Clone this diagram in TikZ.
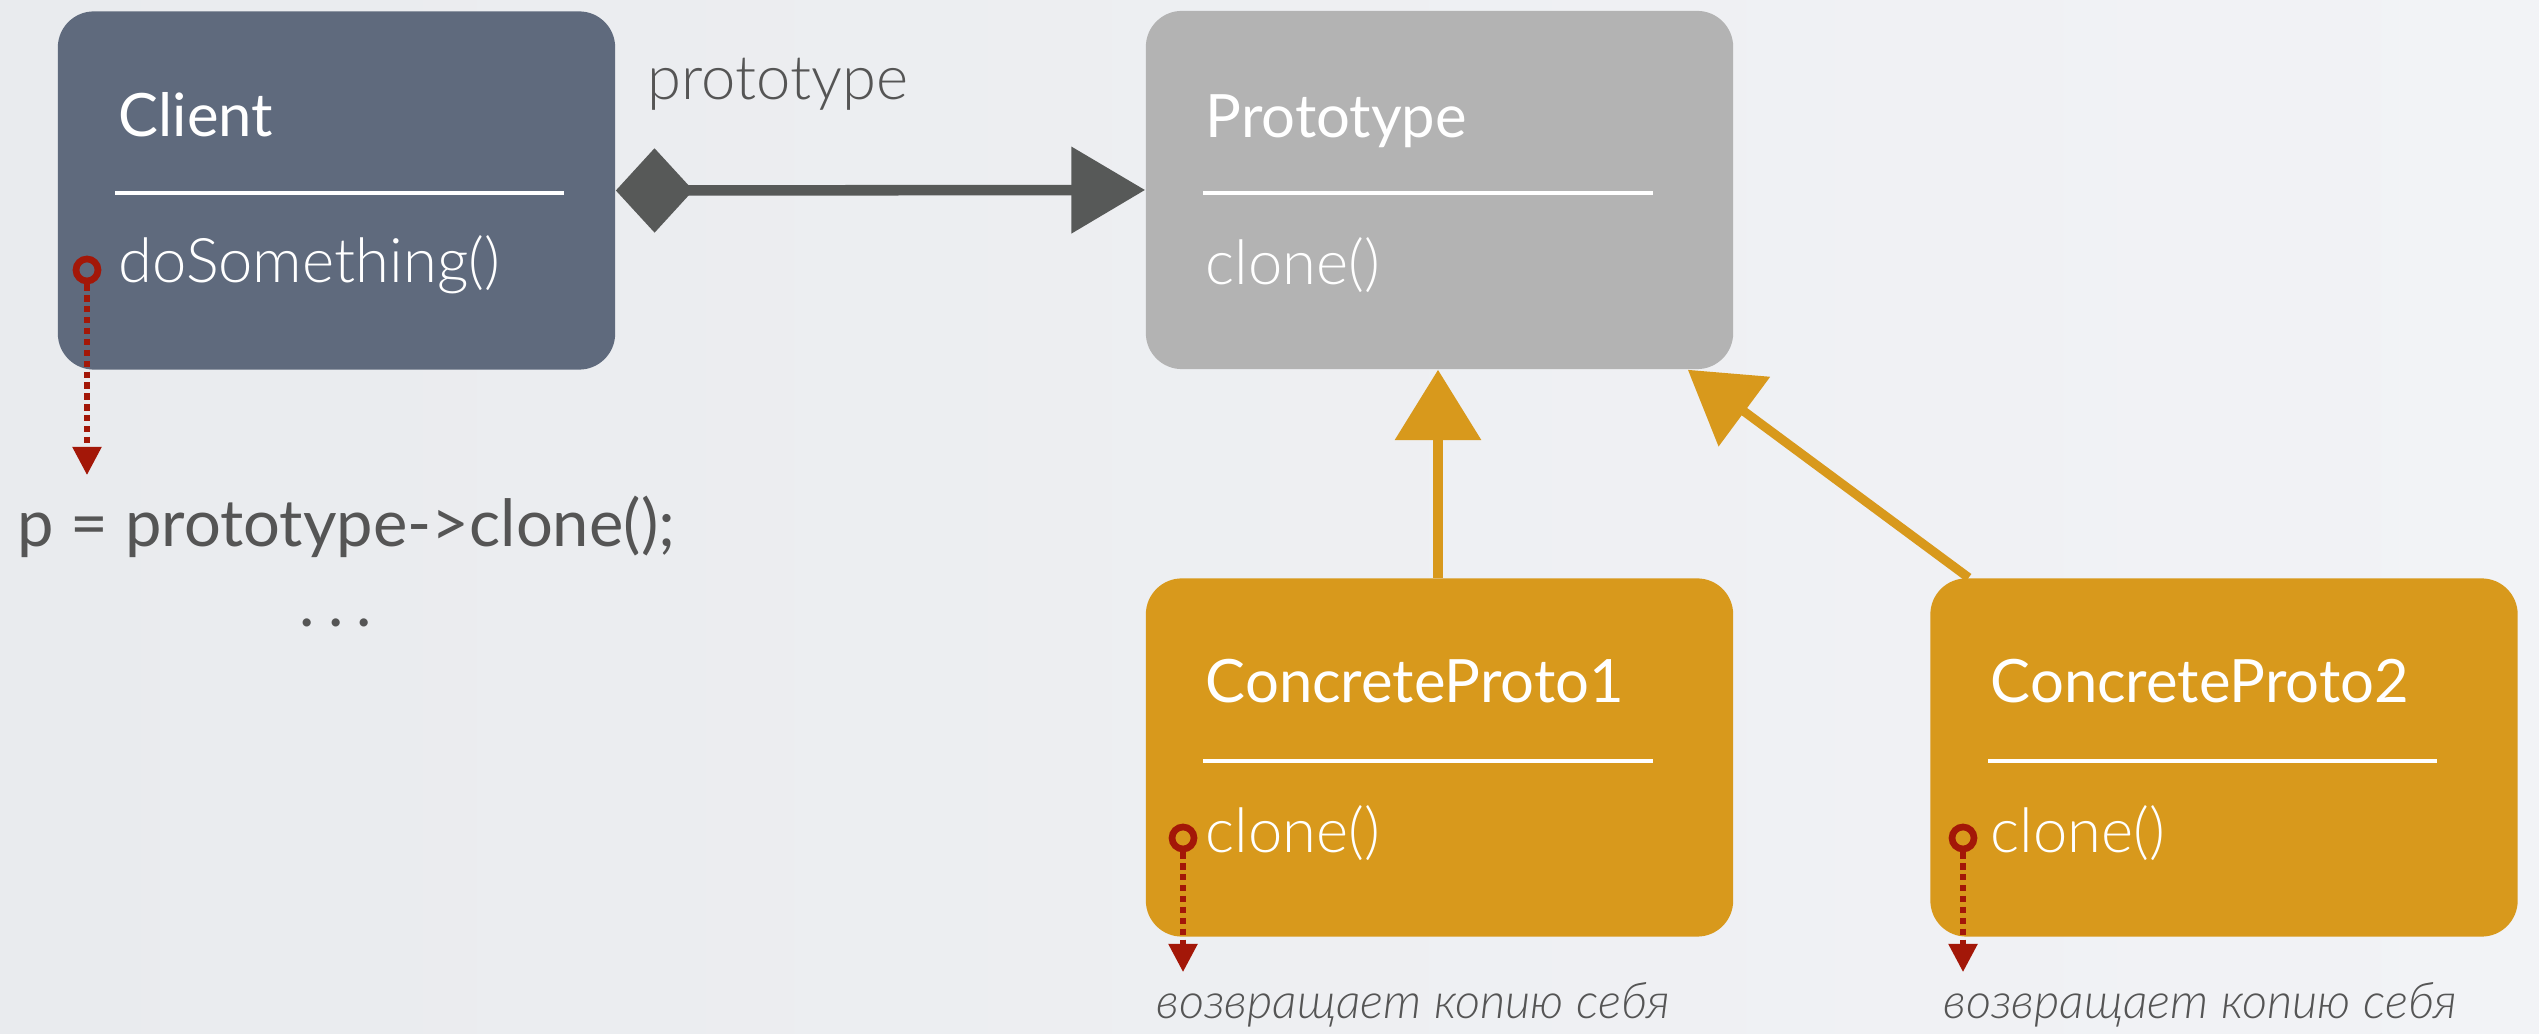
\documentclass[tikz,border=0pt]{standalone}
\usepackage{fontspec}
\setmainfont{Lato}
\newfontfamily\lightfont{Lato Light}
\usetikzlibrary{arrows.meta}

\definecolor{bgleft}{RGB}{233,235,238}
\definecolor{bgright}{RGB}{242,243,246}
\definecolor{clientcol}{RGB}{95,106,125}
\definecolor{protocol}{RGB}{179,179,179}
\definecolor{concol}{RGB}{216,153,28}
\definecolor{assoccol}{RGB}{87,89,88}
\definecolor{callcol}{RGB}{163,23,8}
\definecolor{txtcol}{RGB}{85,85,85}

\tikzset{
  classbox/.style={rounded corners=0.36cm, inner sep=0pt, minimum width=5.87cm, minimum height=3.58cm},
  classname/.style={anchor=base west, text=white, inner sep=0pt, font=\fontsize{17}{20}\selectfont},
  opname/.style={anchor=base west, text=white, inner sep=0pt, font=\lightfont\fontsize{17.5}{20}\selectfont},
  sepline/.style={white, line width=1.1pt},
  hook/.style={circle, draw=callcol, line width=1.9pt, minimum size=0.22cm, inner sep=0pt},
  callarr/.style={callcol, line width=1.5pt, dash pattern=on 1.8pt off 1.3pt, -{Triangle[length=8pt,width=8pt]}},
  inherit/.style={concol, line width=2.6pt, -{Triangle[length=20pt,width=24pt]}},
  assoc/.style={assoccol, line width=3pt, {Diamond[length=22pt,width=24pt]}-{Triangle[length=21pt,width=24pt]}},
  retnote/.style={anchor=base west, text=txtcol, inner sep=0pt, font=\lightfont\fontsize{13.9}{17}\selectfont\itshape}
}

\begin{document}
\begin{tikzpicture}[x=0.01cm,y=-0.01cm]
   % background
   \fill[left color=bgleft, right color=bgright] (0,0) rectangle (2539,1034);

   % classes
   \node[classbox, fill=clientcol, minimum width=5.57cm] (client) at (336.5,190.5) {};
   \node[classbox, fill=protocol] (proto) at (1439.5,190) {};
   \node[classbox, fill=concol] (conc1) at (1439.5,757.5) {};
   \node[classbox, fill=concol] (conc2) at (2224,757.5) {};

   \node[classname] (clname) at (118,137) {Client};
   \draw[sepline] (115,193) -- (564,193);
   \node[opname] (clop) at (118,283) {doSomething()};

   \node[classname] (prname) at (1205,138) {Prototype};
   \draw[sepline] (1203,193) -- (1653,193);
   \node[opname] (prop) at (1205,285) {clone()};

   \node[classname] (c1name) at (1205,703) {ConcreteProto1};
   \draw[sepline] (1203,761) -- (1653,761);
   \node[opname] (c1op) at (1205,853) {clone()};

   \node[classname] (c2name) at (1990,703) {ConcreteProto2};
   \draw[sepline] (1988,761) -- (2437,761);
   \node[opname] (c2op) at (1990,853) {clone()};

   % association
   \node[anchor=base west, inner sep=0pt, text=txtcol, font=\lightfont\fontsize{17.5}{20}\selectfont] (assocname) at (647,100) {prototype};
   \draw[assoc] (client.east) -- (proto.west);

   % inheritance
   \draw[inherit] ([xshift=-0.015cm]conc1.north) -- ([xshift=-0.015cm]proto.south);
   \draw[inherit] ([xshift=0.39cm]conc2.north west) -- ([xshift=-0.46cm]proto.south east);

   % calls
   \node[hook] (clhook) at (87,270) {};
   \coordinate (cltip) at (87,475);
   \draw[callarr] (clhook) -- (cltip);
   \node[anchor=base west, inner sep=0pt, text=txtcol, font=\fontsize{18.5}{22}\selectfont] (code) at (17,547) {p = prototype->clone();};
   \node[anchor=base, inner sep=0pt, text=txtcol, font=\fontsize{18.5}{22}\selectfont] (dots) at (336,627) {.\kern0.2em.\kern0.2em.};

   \node[hook] (c1hook) at (1183,838) {};
   \coordinate (c1tip) at (1183,972);
   \draw[callarr] (c1hook) -- (c1tip);
   \node[retnote] (c1note) at (1156,1018) {возвращает копию себя};

   \node[hook] (c2hook) at (1963,838) {};
   \coordinate (c2tip) at (1963,972);
   \draw[callarr] (c2hook) -- (c2tip);
   \node[retnote] (c2note) at (1943,1018) {возвращает копию себя};
 \end{tikzpicture}
\end{document}
